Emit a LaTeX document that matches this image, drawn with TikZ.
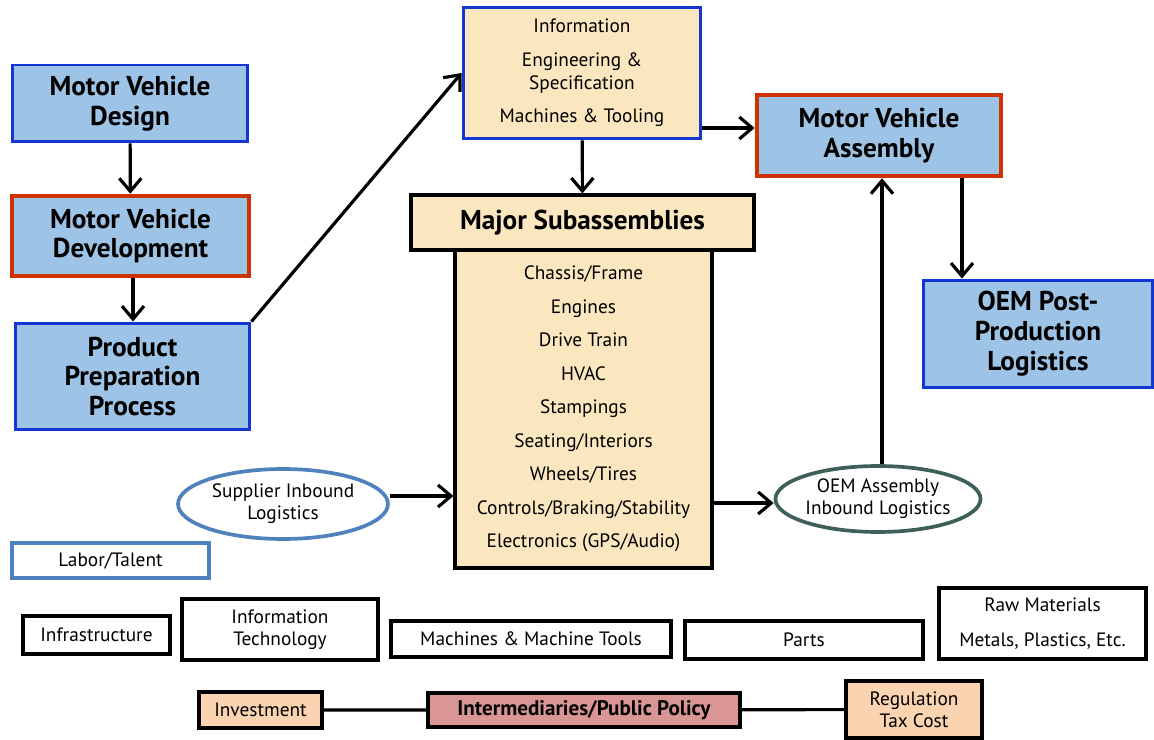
\documentclass[tikz,border=0pt]{standalone}
\usepackage{fontspec}
\setmainfont{PT Sans}
\usepackage{tikz}
\usetikzlibrary{positioning,arrows.meta,shapes.geometric}
\definecolor{boxblue}{RGB}{157,195,230}
\definecolor{edgeblue}{RGB}{20,55,210}
\definecolor{edgered}{RGB}{204,51,0}
\definecolor{wheat}{RGB}{250,231,192}
\definecolor{steel}{RGB}{79,129,189}
\definecolor{teal}{RGB}{63,96,90}
\definecolor{peach}{RGB}{250,211,176}
\definecolor{rose}{RGB}{217,150,148}
\tikzset{
	flow/.style={-{Straight Barb[length=2.6mm,width=4.4mm]}, line width=1.8pt},
	stage/.style={draw=edgeblue, line width=1.7pt, fill=boxblue, align=center, font=\fontsize{15.5}{17}\selectfont\bfseries},
	keystage/.style={stage, draw=edgered, line width=2.6pt},
	cream/.style={draw, line width=1.8pt, fill=wheat, align=center},
	logi/.style={ellipse, inner sep=0pt, line width=2.1pt, fill=white, align=center, font=\fontsize{11}{12.5}\selectfont},
	plain/.style={draw, line width=1.8pt, align=center, font=\fontsize{11}{12.5}\selectfont},
	policy/.style={plain, fill=peach},
}
\begin{document}
\begin{tikzpicture}[x=0.02cm, y=-0.02cm]
	\useasboundingbox (0,0) rectangle (1154,740);

	% left column
	\node[stage, minimum width=4.72cm, minimum height=1.54cm] (design) at (130,103.5) {Motor Vehicle\\Design};
	\node[keystage, minimum width=4.74cm, minimum height=1.6cm] (devel) at (130.5,236) {Motor Vehicle\\Development};
	\node[stage, minimum width=4.7cm, minimum height=2.14cm] (prep) at (132.5,376.5) {Product\\Preparation\\Process};

	% centre
	\node[cream, draw=edgeblue, line width=1.7pt, minimum width=4.76cm, minimum height=2.64cm, font=\fontsize{11}{13}\selectfont] (info) at (582,73)
		{Information\\[6pt] Engineering \&\\ Specification\\[6pt] Machines \& Tooling};
	\node[cream, minimum width=6.86cm, minimum height=1.1cm, font=\fontsize{15.5}{17}\selectfont\bfseries] (major) at (582.5,222.5) {Major Subassemblies};
	\node[cream, minimum width=5.14cm, minimum height=6.36cm, font=\fontsize{11}{19.1}\selectfont] (parts) at (583.5,409)
		{Chassis/Frame\\ Engines\\ Drive Train\\ HVAC\\ Stampings\\ Seating/Interiors\\ Wheels/Tires\\ Controls/Braking/Stability\\ Electronics (GPS/Audio)};

	% right side
	\node[keystage, minimum width=4.88cm, minimum height=1.62cm] (assy) at (879,135.5) {Motor Vehicle\\Assembly};
	\node[stage, minimum width=4.6cm, minimum height=2.16cm] (post) at (1038,334) {OEM Post-\\Production\\Logistics};

	\node[logi, draw=steel, minimum width=4.2cm, minimum height=1.4cm] (supin) at (283,504) {Supplier Inbound\\Logistics};
	\node[logi, draw=teal, minimum width=4.04cm, minimum height=1.32cm] (oemin) at (878,499) {OEM Assembly\\Inbound Logistics};

	% resources
	\node[plain, draw=steel, line width=2.1pt, minimum width=3.94cm, minimum height=0.7cm] (labor) at (110.5,560.5) {Labor/Talent};
	\node[plain, minimum width=2.94cm, minimum height=0.76cm] (infra) at (96.5,635) {Infrastructure};
	\node[plain, minimum width=3.92cm, minimum height=1.22cm] (itech) at (280,629.5) {Information\\Technology};
	\node[plain, minimum width=5.6cm, minimum height=0.72cm] (tools) at (531,639) {Machines \& Machine Tools};
	\node[plain, minimum width=4.76cm, minimum height=0.76cm] (partsbox) at (804,640) {Parts};
	\node[plain, minimum width=4.14cm, minimum height=1.42cm] (raw) at (1042.5,623.5) {Raw Materials\\[7pt] Metals, Plastics, Etc.};

	% policy row
	\node[policy, minimum width=2.46cm, minimum height=0.72cm] (invest) at (260.5,710) {Investment};
	\node[plain, fill=rose, minimum width=6.24cm, minimum height=0.68cm, font=\fontsize{12}{13}\selectfont\bfseries] (inter) at (584,710) {Intermediaries/Public Policy};
	\node[policy, minimum width=2.72cm, minimum height=1.14cm] (reg) at (914,709.5) {Regulation\\Tax Cost};

	% connectors
	\draw[flow] (design) -- (devel);
	\draw[flow] (devel.south -| 133,0) -- (prep.north -| 133,0);
	\draw[flow] (prep.north east) -- (info.west);
	\draw[flow] (info) -- (major);
	\draw[flow] (info.east |- 0,128) -- (assy.west |- 0,128);
	\draw[flow] (assy.south -| 962,0) -- (post.north -| 962,0);
	\draw[flow] (supin.east |- 0,496) -- (parts.west |- 0,496);
	\draw[flow] (parts.east |- 0,503) -- (oemin.west |- 0,503);
	\draw[flow] (oemin.north -| 882,0) -- (assy.south -| 882,0);
	\draw[line width=1.8pt] (invest) -- (inter) -- (reg);
\end{tikzpicture}
\end{document}
